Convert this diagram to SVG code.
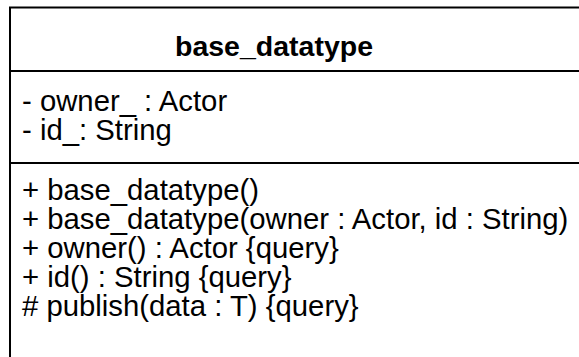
<svg xmlns="http://www.w3.org/2000/svg" width="579" height="357" viewBox="0 0 579 357">
  <style>
    .frame { fill: none; stroke: #000; stroke-width: 2; }
    .title { font-family: "Liberation Sans", Arial, Helvetica, sans-serif; font-size: 28.5px; font-weight: bold; fill: #000; text-anchor: middle; }
    .member { font-family: "Liberation Sans", Arial, Helvetica, sans-serif; font-size: 29.3px; fill: #000; }
  </style>
  <rect width="579" height="357" fill="#fff"/>
  <g id="base_datatype">
    <!-- class box: top edge, left edge and compartment dividers -->
    <path class="frame" d="M10 357 V7.5 H579 M10 71 H579 M10 163 H579"/>
    <text class="title" x="274" y="56">base_datatype</text>
    <!-- attributes -->
    <text class="member" x="22" y="111">- owner_ : Actor</text>
    <text class="member" x="22" y="140">- id_: String</text>
    <!-- operations -->
    <text class="member" x="22" y="200">+ base_datatype()</text>
    <text class="member" x="22" y="229">+ base_datatype(owner : Actor, id : String)</text>
    <text class="member" x="22" y="258">+ owner() : Actor {query}</text>
    <text class="member" x="22" y="287">+ id() : String {query}</text>
    <text class="member" x="22" y="316"># publish(data : T) {query}</text>
  </g>
</svg>
